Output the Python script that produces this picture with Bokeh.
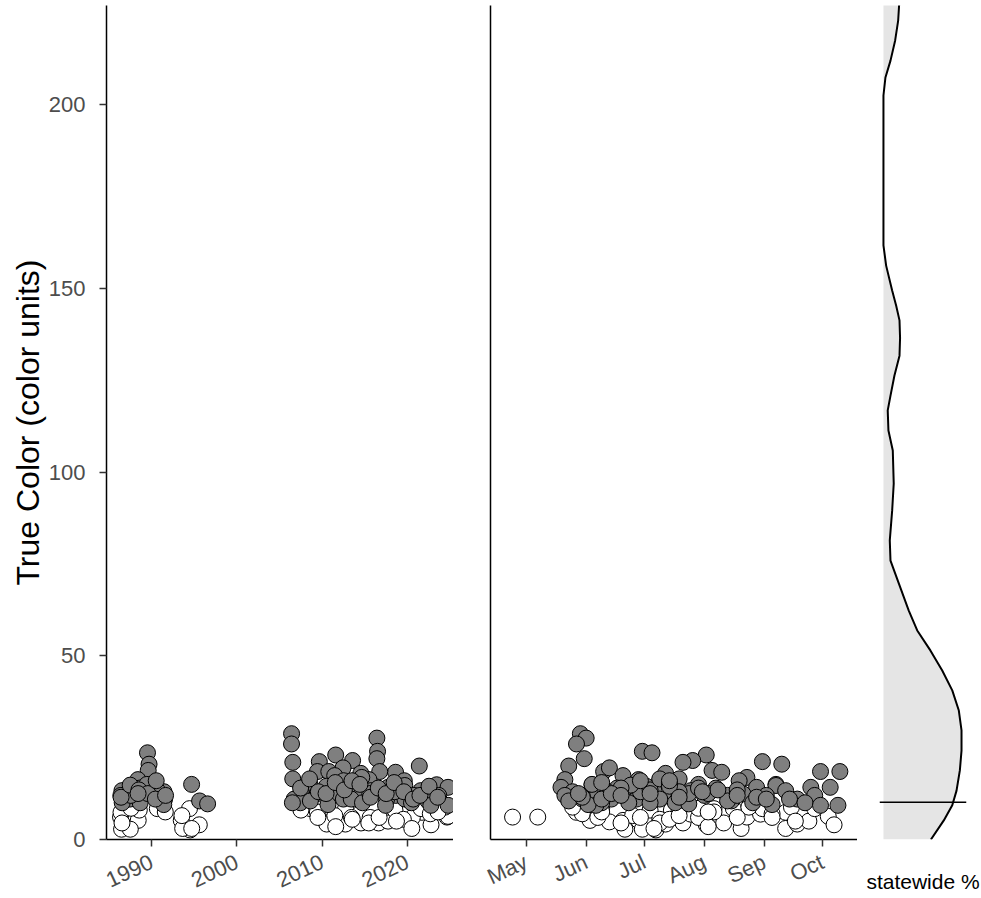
import math
from bokeh.plotting import figure
from bokeh.layouts import row
from bokeh.models import FixedTicker, Range1d, Span
from bokeh.embed import file_html
from bokeh.resources import INLINE

# ---------------- data ----------------
# gray (filled) observations: year, day of year, true color
gray_year = [2006, 2016, 2006, 2016, 1989, 2011, 2013, 2016, 2006, 2009,
             1989, 2021, 2009, 2012, 1989, 2018, 2016, 2010, 2014, 2011,
             2006, 2015, 2014, 2019, 1988, 2012, 2008, 2023, 1994, 2010,
             2019, 1987, 2013, 1990, 2017, 2024, 1988, 2021, 1986, 2015,
             2007, 1991, 1987, 2022, 2014, 2009, 1990, 2011, 2018, 1988,
             2023, 2020, 1986, 2006, 2012, 1991, 2017, 1987, 2019, 2013,
             1995, 2022, 2007, 1988, 2020, 2014, 1986, 1996, 2017, 2006,
             2010, 1991, 2022, 2024, 2008, 1989, 1990, 2015, 2018, 1987,
             1986, 1987, 1988, 1989, 1990, 1991, 2007, 2008, 2009, 2010,
             2011, 2012, 2013, 2014, 2015, 2016, 2017, 2018, 2019, 2020,
             2021, 2022, 2023, 1988, 1990]
gray_doy = [149, 152, 147, 181, 186, 214, 207, 151, 202, 243,
            253, 143, 161, 164, 217, 222, 273, 283, 193, 171,
            200, 179, 235, 231, 141, 190, 210, 155, 250, 183,
            250, 240, 139, 168, 268, 278, 219, 206, 187, 255,
            196, 163, 145, 176, 233, 158, 213, 147, 225, 171,
            245, 270, 141, 261, 178, 190, 203, 165, 257, 150,
            227, 143, 160, 238, 174, 265, 198, 205, 157, 185,
            248, 153, 273, 282, 225, 160, 230, 215, 180, 200,
            150, 175, 185, 205, 160, 230, 170, 190, 200, 165,
            195, 220, 180, 155, 240, 210, 185, 160, 212, 245,
            170, 195, 200, 148, 195]
gray_val = [28.8, 27.6, 26.0, 24.0, 23.6, 23.0, 21.5, 22.0, 21.0, 21.2,
            20.5, 20.0, 18.5, 19.5, 18.8, 18.3, 18.5, 18.5, 18.0, 17.4,
            16.5, 16.3, 16.9, 16.0, 16.3, 16.0, 15.0, 14.9, 15.0, 14.5,
            14.7, 14.2, 14.2, 14.0, 14.2, 14.2, 14.0, 13.3, 13.3, 13.3,
            13.0, 13.0, 13.0, 12.9, 12.4, 12.5, 12.0, 12.0, 12.0, 12.0,
            12.0, 12.0, 12.0, 11.0, 11.0, 11.0, 11.0, 11.0, 11.0, 11.0,
            10.5, 10.5, 10.0, 10.0, 10.0, 10.0, 10.0, 9.7, 9.3, 10.0,
            9.5, 9.5, 9.3, 9.3, 10.5, 15.0, 13.5, 12.5, 13.0, 12.0,
            11.5, 14.8, 13.5, 12.5, 11.0, 12.0, 14.0, 16.5, 13.0, 12.5,
            15.5, 13.5, 16.0, 15.0, 11.5, 14.0, 12.5, 15.5, 13.0, 11.0,
            12.0, 14.5, 11.5, 12.5, 16.0]

# white (open) observations: year, day of year, true color
white_year = [1987, 1986, 1986, 1988, 2010, 1993, 1986, 2014, 1987, 1994,
              2010, 2014, 1995, 2017, 2016, 1993, 2024, 2019, 2021, 1994,
              2012, 2017, 2024, 2022, 1990, 1994, 2008, 2010, 2012, 2014,
              2017, 2007, 2018, 2020, 2021, 2022, 2024, 2013, 2015, 1988,
              1991, 2011, 2019, 2009, 1986, 1987, 2009, 2011, 2013, 2015,
              2016, 2018, 2020, 2023, 1993]
white_doy = [114, 127, 147, 154, 164, 171, 172, 179, 181, 188,
             193, 202, 214, 206, 223, 232, 235, 242, 255, 255,
             261, 267, 277, 280, 243, 160, 228, 236, 270, 150,
             258, 185, 196, 210, 218, 248, 145, 158, 230, 200,
             218, 176, 190, 160, 190, 210, 180, 215, 195, 170,
             248, 260, 187, 215, 200]
white_val = [6.1, 6.1, 7.4, 5.2, 4.8, 5.2, 2.8, 5.2, 2.8, 2.6,
             4.2, 4.5, 4.0, 6.9, 4.5, 3.0, 6.1, 6.9, 7.4, 3.0,
             4.2, 5.0, 6.3, 4.0, 8.4, 8.4, 8.4, 8.8, 8.4, 7.0,
             8.8, 8.0, 8.0, 6.0, 8.4, 7.0, 8.8, 6.0, 6.0, 8.0,
             7.5, 6.5, 5.5, 7.5, 4.5, 8.5, 6.0, 3.5, 5.5, 4.5,
             6.0, 5.0, 3.0, 7.5, 6.5]

# statewide density of true color (relative)
dens_color = [0.0, 5.2, 9.3, 13.3, 18.8, 24.2, 29.7, 35.1, 40.6, 46.0,
              51.4, 56.9, 62.3, 69.7, 75.9, 81.4, 89.5, 96.9, 105.9, 111.3,
              116.8, 120.8, 126.3, 131.7, 136.5, 141.3, 145.3, 149.4, 156.2, 161.7,
              165.0, 198.0, 202.5, 207.4, 212.0, 217.5, 222.9, 227.8]
dens_value = [0.60, 0.763, 0.870, 0.924, 0.966, 0.987, 0.987, 0.953, 0.870, 0.743,
              0.595, 0.427, 0.320, 0.194, 0.089, 0.080, 0.110, 0.130, 0.118, 0.063,
              0.054, 0.089, 0.139, 0.203, 0.210, 0.203, 0.161, 0.110, 0.034, 0.0,
              0.0, 0.0, 0.0, 0.025, 0.089, 0.148, 0.186, 0.200]
statewide_median = 10.15

year_ticks = [1990, 2000, 2010, 2020]
month_ticks = [121, 152, 182, 213, 244, 274]
month_labels = ["May", "Jun", "Jul", "Aug", "Sep", "Oct"]
y_ticks = [0, 50, 100, 150, 200]

# ---------------- styling ----------------
FONT = "Liberation Sans"
TICK_COL = "#4D4D4D"
GRAY = "#7F7F7F"
PT = 16

def dec_year(y, d):
    return y + (d - 1) / 365.0

gray_x1 = [dec_year(y, d) for y, d in zip(gray_year, gray_doy)]
white_x1 = [dec_year(y, d) for y, d in zip(white_year, white_doy)]

y_range = Range1d(0, 227.0)
FH = 834
TOP = 5
BOTTOM = 56

def style(p):
    p.grid.visible = False
    p.outline_line_color = None
    p.background_fill_color = "white"
    p.border_fill_color = "white"
    for ax in p.axis:
        ax.axis_line_color = "black"
        ax.axis_line_width = 1.5
        ax.major_tick_line_color = "#333333"
        ax.major_tick_line_width = 1.5
        ax.major_tick_out = 7
        ax.major_tick_in = 0
        ax.minor_tick_line_color = None
        ax.major_label_text_font = FONT
        ax.major_label_text_color = TICK_COL
        ax.major_label_text_font_size = "22px"
        ax.axis_label_text_font = FONT
        ax.axis_label_text_font_style = "normal"
        ax.axis_label_text_color = "black"

# ---- panel 1: by year ----
p1 = figure(frame_width=347, frame_height=FH, x_range=Range1d(1984.7, 2025.4),
            y_range=y_range, output_backend="svg", toolbar_location=None,
            min_border_left=106, min_border_right=0, min_border_top=TOP,
            min_border_bottom=BOTTOM)
p1.scatter(white_x1, white_val, size=PT, fill_color="white", line_color="black", line_width=1)
p1.scatter(gray_x1, gray_val, size=PT, fill_color=GRAY, line_color="black", line_width=1)
style(p1)
p1.xaxis.ticker = FixedTicker(ticks=year_ticks)
p1.xaxis.major_label_orientation = 25 * math.pi / 180
p1.xaxis.major_label_standoff = 14
p1.yaxis.ticker = FixedTicker(ticks=y_ticks)
p1.yaxis.major_label_standoff = 14
p1.yaxis.axis_label = "True Color (color units)"
p1.yaxis.axis_label_text_font_size = "32px"
p1.yaxis.axis_label_standoff = 0

# ---- panel 2: by day of year ----
p2 = figure(frame_width=367, frame_height=FH, x_range=Range1d(102.6, 292.1),
            y_range=y_range, output_backend="svg", toolbar_location=None,
            min_border_left=37, min_border_right=0, min_border_top=TOP,
            min_border_bottom=BOTTOM)
p2.scatter(white_doy, white_val, size=PT, fill_color="white", line_color="black", line_width=1)
p2.scatter(gray_doy, gray_val, size=PT, fill_color=GRAY, line_color="black", line_width=1)
style(p2)
p2.xaxis.ticker = FixedTicker(ticks=month_ticks)
p2.xaxis.major_label_overrides = {t: lab for t, lab in zip(month_ticks, month_labels)}
p2.xaxis.major_label_orientation = 25 * math.pi / 180
p2.xaxis.major_label_standoff = 14
p2.yaxis.ticker = FixedTicker(ticks=[])

# ---- panel 3: statewide density ----
p3 = figure(frame_width=87, frame_height=FH, x_range=Range1d(-0.05, 1.05),
            y_range=y_range, output_backend="svg", toolbar_location=None,
            min_border_left=22, min_border_right=15, min_border_top=TOP,
            min_border_bottom=BOTTOM)
p3.harea(x1=[0.0] * len(dens_color), x2=dens_value, y=dens_color, fill_color="#E5E5E5")
p3.line(dens_value, dens_color, line_color="black", line_width=2)
p3.add_layout(Span(location=statewide_median, dimension="width", line_color="black", line_width=1.5))
style(p3)
p3.yaxis.visible = False
p3.xaxis.ticker = FixedTicker(ticks=[])
p3.xaxis.axis_line_color = None
p3.xaxis.axis_label = "statewide %"
p3.xaxis.axis_label_text_font_size = "21px"
p3.xaxis.axis_label_standoff = 30

layout = row(p1, p2, p3)
open("out.html", "w").write(file_html(layout, INLINE))
